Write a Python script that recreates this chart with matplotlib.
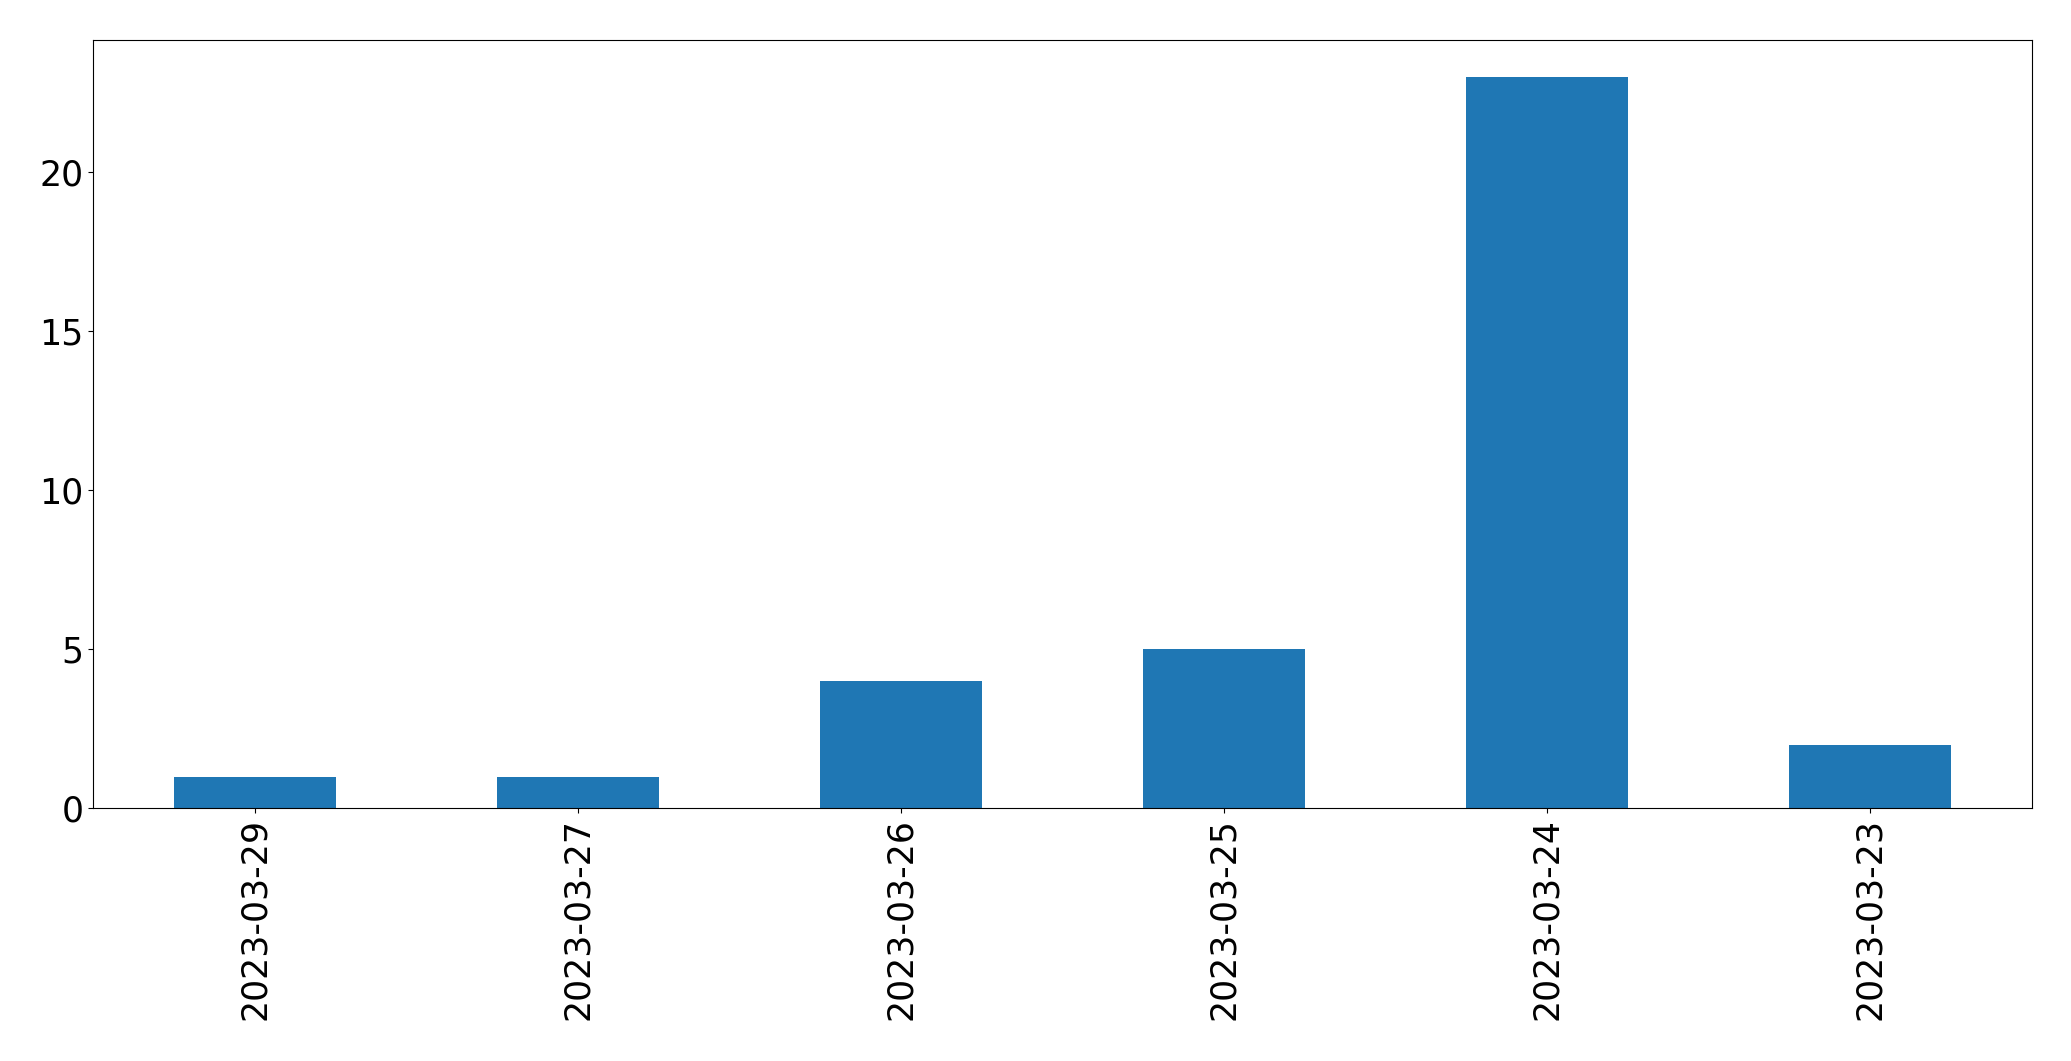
import matplotlib
matplotlib.use("Agg")
import matplotlib.pyplot as plt
import pandas as pd

dates = ["2023-03-29", "2023-03-27", "2023-03-26",
         "2023-03-25", "2023-03-24", "2023-03-23"]
counts = [1, 1, 4, 5, 23, 2]

s = pd.Series(counts, index=dates)

fig, ax = plt.subplots(figsize=(20.71, 10.61), dpi=100)
s.plot(kind="bar", ax=ax, color="#1f77b4")
ax.tick_params(axis="both", labelsize=25)
fig.subplots_adjust(left=0.045, right=0.981, top=0.962, bottom=0.238)

plt.savefig("out.png")
